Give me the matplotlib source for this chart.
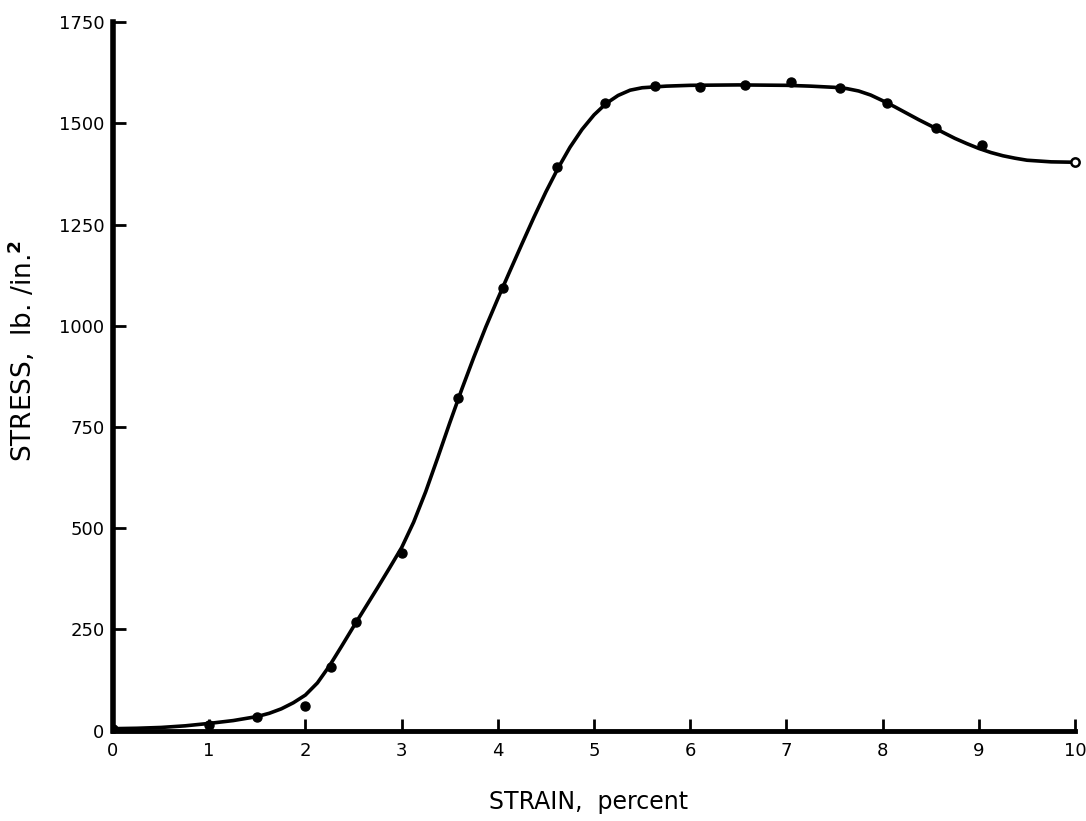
import matplotlib.pyplot as plt
import numpy as np

# measured points
strain = [0.0, 1.0, 1.5, 2.0, 2.27, 2.53, 3.0, 3.59, 4.05, 4.62, 5.11,
          5.63, 6.10, 6.57, 7.05, 7.56, 8.04, 8.55, 9.03]
stress = [5, 15, 35, 60, 158, 269, 440, 822, 1094, 1393, 1551,
          1593, 1590, 1595, 1602, 1588, 1551, 1489, 1447]

# final point (open circle)
strain_end = [10.0]
stress_end = [1405]

# hand drawn curve
curve_x = [0.0, 0.25, 0.5, 0.75, 1.0, 1.25, 1.5, 1.625, 1.75, 1.875,
           2.0, 2.125, 2.25, 2.375, 2.5, 2.625, 2.75, 2.875,
           3.0, 3.125, 3.25, 3.375, 3.5, 3.625, 3.75, 3.875,
           4.0, 4.125, 4.25, 4.375, 4.5, 4.625, 4.75, 4.875,
           5.0, 5.125, 5.25, 5.375, 5.5, 5.75, 6.0, 6.5, 7.0,
           7.25, 7.5, 7.625, 7.75, 7.875, 8.0, 8.125, 8.25, 8.375,
           8.5, 8.625, 8.75, 8.875, 9.0, 9.125, 9.25, 9.375, 9.5,
           9.75, 10.0]
curve_y = [5, 6, 8, 12, 18, 25, 35, 43, 54, 69,
           88, 118, 160, 208, 257, 305, 353, 402,
           452, 515, 590, 674, 760, 843, 922, 997,
           1067, 1135, 1202, 1268, 1331, 1389, 1441, 1485,
           1521, 1549, 1569, 1582, 1588, 1592, 1594, 1595, 1594,
           1592, 1589, 1586, 1580, 1570, 1556, 1541, 1525, 1509,
           1494, 1478, 1463, 1450, 1438, 1428, 1420, 1414, 1409,
           1405, 1404]

xticks = list(range(0, 11))
yticks = [0, 250, 500, 750, 1000, 1250, 1500, 1750]

plt.rcParams['font.family'] = ['DejaVu Sans']

fig = plt.figure(figsize=(10.86, 8.21), dpi=100)
ax = fig.add_axes([0.104, 0.11, 0.886, 0.863])

ax.plot(curve_x, curve_y, color='black', linewidth=2.6,
        solid_capstyle='round', solid_joinstyle='round')
ax.plot(strain, stress, 'o', color='black', markersize=6.5)
ax.plot(strain_end, stress_end, 'o', markerfacecolor='white', markeredgecolor='black',
        markeredgewidth=1.8, markersize=6, clip_on=False)

ax.set_xlim(0, 10)
ax.set_ylim(0, 1750)
ax.set_xticks(xticks)
ax.set_yticks(yticks)
ax.set_xticklabels([str(v) for v in xticks])
ax.set_yticklabels([str(v) for v in yticks])

for s in ['top', 'right']:
    ax.spines[s].set_visible(False)
ax.spines['left'].set_linewidth(4)
ax.spines['bottom'].set_linewidth(3.5)

ax.tick_params(axis='both', direction='in', length=9, width=2, labelsize=13, pad=8)
ax.tick_params(axis='y', pad=6)

ax.set_xlabel('STRAIN,  percent', fontsize=17, va='center', ha='center')
ax.set_ylabel('STRESS,  lb. /in.$^{\\mathbf{2}}$', fontsize=19, va='center', ha='center')
ax.xaxis.set_label_coords(0.494, -0.10)
ax.yaxis.set_label_coords(-0.094, 0.536)

fig.savefig('out.png', dpi=100)
